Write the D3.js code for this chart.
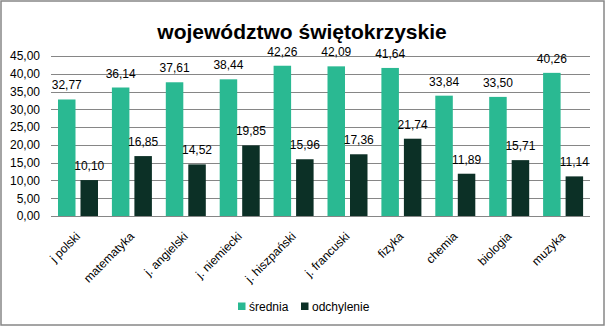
<!DOCTYPE html>
<html><head><meta charset="utf-8">
<script src="https://cdn.jsdelivr.net/npm/d3@7"></script>
<style>body{margin:0;background:#fff}svg{display:block}</style>
</head><body><svg id="c" width="607" height="335"></svg>
<script>
const categories = ["j polski","matematyka","j. angielski","j. niemiecki","j. hiszpański","j. francuski","fizyka","chemia","biologia","muzyka"];
const seriesNames = ["średnia","odchylenie"];
const srednia = [32.77,36.14,37.61,38.44,42.26,42.09,41.64,33.84,33.50,40.26];
const odchylenie = [10.10,16.85,14.52,19.85,15.96,17.36,21.74,11.89,15.71,11.14];
const yTicks = [0,5,10,15,20,25,30,35,40,45];
const title = "województwo świętokrzyskie";
const colors = ["#2AB992","#0C3026"];

const svg = d3.select("#c");
const font = "'Liberation Sans', Arial, sans-serif";
svg.append("rect").attr("x",1).attr("y",1).attr("width",603).attr("height",324)
  .attr("fill","#fff").attr("stroke","#878787").attr("stroke-width",1.5);

svg.append("text").attr("x",302).attr("y",39).attr("text-anchor","middle")
  .attr("font-family",font).attr("font-weight","bold").attr("font-size",21).text(title);

const L=51,R=590,T=56,B=216;
const x = d3.scaleBand().domain(categories).range([L,R]).padding(0);
const xs = d3.scaleBand().domain(seriesNames).range([7,47]).paddingInner(0.222);
const y = d3.scaleLinear().domain([0,45]).range([B,T]);

const g = svg.append("g");
g.selectAll("line.grid").data(yTicks).join("line").attr("class","grid")
  .attr("x1",L).attr("x2",R).attr("y1",d=>Math.round(y(d))+0.5).attr("y2",d=>Math.round(y(d))+0.5)
  .attr("stroke","#868686").attr("stroke-width",1);

const yAxis = d3.axisLeft(y).tickValues(yTicks).tickSize(0).tickPadding(11)
  .tickFormat(d=>d3.format(".2f")(d).replace(".",","));
const ya = svg.append("g").attr("transform",`translate(${L},0)`).call(yAxis);
ya.select(".domain").remove();
ya.selectAll("text").attr("font-family",font).attr("font-size",12).attr("fill","#000");

const data = categories.map((c,i)=>({c, vals:[srednia[i],odchylenie[i]]}));
const grp = svg.selectAll("g.cat").data(data).join("g").attr("class","cat")
  .attr("transform",d=>`translate(${x(d.c)},0)`);
grp.selectAll("rect").data(d=>d.vals.map((v,j)=>({s:seriesNames[j],v,j}))).join("rect")
  .attr("x",d=>xs(d.s)).attr("width",xs.bandwidth())
  .attr("y",d=>y(d.v)).attr("height",d=>B-y(d.v)).attr("fill",d=>colors[d.j]);
grp.selectAll("text.val").data(d=>d.vals.map((v,j)=>({s:seriesNames[j],v,j}))).join("text")
  .attr("class","val").attr("x",d=>xs(d.s)+xs.bandwidth()/2).attr("y",d=>y(d.v)-10)
  .attr("text-anchor","middle").attr("font-family",font).attr("font-size",12)
  .text(d=>d3.format(".2f")(d.v).replace(".",","));

svg.selectAll("text.cat").data(categories).join("text").attr("class","cat")
  .attr("transform",d=>`translate(${x(d)+x.bandwidth()/2+3},237) rotate(-45)`)
  .attr("text-anchor","end").attr("font-family",font).attr("font-size",12).text(d=>d);

const lx=[238,301];
seriesNames.forEach((s,i)=>{
  svg.append("rect").attr("x",lx[i]).attr("y",302.5).attr("width",7.5).attr("height",7.5).attr("fill",colors[i]);
  svg.append("text").attr("x",lx[i]+11).attr("y",310.5).attr("font-family",font).attr("font-size",12).text(s);
});
</script></body></html>
